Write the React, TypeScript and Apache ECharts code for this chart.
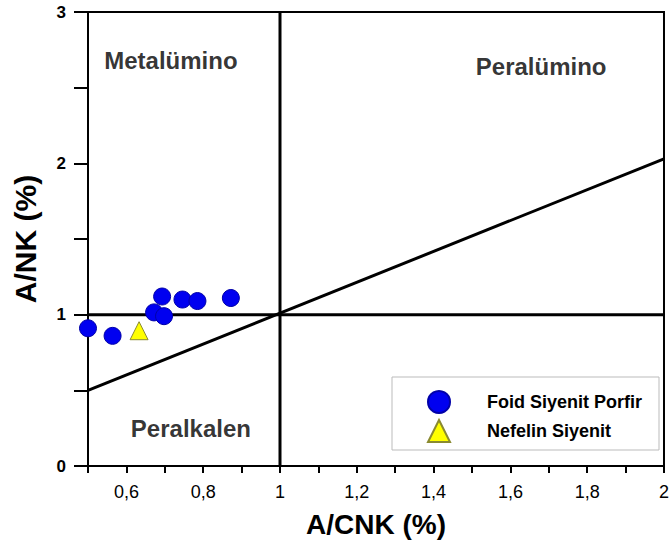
import React, { useEffect, useRef } from "react";
import * as echarts from "echarts";

// A/CNK vs A/NK discrimination diagram (Shand)
const foidAcnk = [0.5, 0.564, 0.672, 0.698, 0.693, 0.746, 0.785, 0.872];
const foidAnk = [0.91, 0.86, 1.015, 0.99, 1.12, 1.1, 1.09, 1.11];
const nefelinAcnk = [0.633];
const nefelinAnk = [0.894];

// Field boundaries
const boundaryVertical = [[1, 0], [1, 3]];
const boundaryHorizontal = [[0.5, 1], [2, 1]];
const boundaryDiagonal = [[0.5, 0.5], [2, 2.03]];

// Field names and their anchor points (A/CNK, A/NK)
const fieldNames = ["Metalümino", "Peralümino", "Peralkalen"];
const fieldAcnk = [0.716, 1.68, 0.768];
const fieldAnk = [2.68, 2.64, 0.25];

const seriesNames = ["Foid Siyenit Porfir", "Nefelin Siyenit"];

const FONT = "'Liberation Sans', Arial, sans-serif";

function fmtComma(v: number): string {
  return String(+v.toFixed(1)).replace(".", ",");
}

export default function App() {
  const ref = useRef<HTMLDivElement>(null);

  useEffect(() => {
    if (!ref.current) return;
    const chart = echarts.init(ref.current, undefined, { renderer: "svg" });

    const boundaryLine = (data: number[][]) => ({
      type: "line",
      data,
      symbol: "none",
      silent: true,
      lineStyle: { color: "#000", width: 3 },
      z: 2,
    });

    chart.setOption({
      animation: false,
      backgroundColor: "#fff",
      textStyle: { fontFamily: FONT },
      grid: {
        left: 88,
        right: 8,
        top: 12,
        bottom: 84,
        show: true,
        borderColor: "#000",
        borderWidth: 2,
        backgroundColor: "transparent",
      },
      xAxis: {
        type: "value",
        min: 0.5,
        max: 2,
        interval: 0.1,
        name: "A/CNK (%)",
        nameLocation: "middle",
        nameGap: 44,
        nameTextStyle: { fontFamily: FONT, fontSize: 28, fontWeight: "bold", color: "#000" },
        axisLine: { lineStyle: { color: "#000", width: 2 } },
        axisTick: { length: 7, lineStyle: { color: "#000", width: 2 } },
        splitLine: { show: false },
        axisLabel: {
          margin: 17,
          fontSize: 18,
          color: "#000",
          fontFamily: FONT,
          formatter: (v: number) => {
            const t = Math.round(v * 10);
            return t % 2 === 0 ? fmtComma(v) : "";
          },
        },
      },
      yAxis: {
        type: "value",
        min: 0,
        max: 3,
        interval: 0.5,
        name: "A/NK (%)",
        nameLocation: "middle",
        nameGap: 48,
        nameTextStyle: { fontFamily: FONT, fontSize: 30, fontWeight: "bold", color: "#000" },
        axisLine: { lineStyle: { color: "#000", width: 2 } },
        axisTick: { length: 14, lineStyle: { color: "#000", width: 2 } },
        splitLine: { show: false },
        axisLabel: {
          margin: 22,
          fontSize: 17,
          fontWeight: "bold",
          color: "#000",
          fontFamily: FONT,
          formatter: (v: number) => (Math.abs(v - Math.round(v)) < 1e-6 ? String(Math.round(v)) : ""),
        },
      },
      legend: {
        orient: "vertical",
        left: 427,
        top: 390,
        padding: 0,
        itemWidth: 22,
        itemHeight: 22,
        itemGap: 5,
        textStyle: {
          fontFamily: FONT,
          fontSize: 18,
          fontWeight: "bold",
          color: "#000",
          padding: [0, 0, 0, 32],
        },
        data: [
          { name: seriesNames[0], icon: "circle" },
          { name: seriesNames[1], icon: "triangle" },
        ],
      },
      graphic: [
        {
          type: "rect",
          shape: { x: 392, y: 377, width: 267, height: 73 },
          style: { fill: "#fff", stroke: "#bbbbbb", lineWidth: 1 },
          z: 3,
        },
      ],
      series: [
        boundaryLine(boundaryVertical),
        boundaryLine(boundaryHorizontal),
        boundaryLine(boundaryDiagonal),
        {
          type: "scatter",
          silent: true,
          symbolSize: 0,
          data: fieldNames.map((n, i) => ({ name: n, value: [fieldAcnk[i], fieldAnk[i]] })),
          label: {
            show: true,
            position: "inside",
            formatter: (p: any) => p.name,
            fontFamily: FONT,
            fontSize: 24,
            fontWeight: "bold",
            color: "#000",
          },
        },
        {
          name: seriesNames[0],
          type: "scatter",
          symbol: "circle",
          symbolSize: 17,
          itemStyle: { color: "#0000f0", borderColor: "#0000a8", borderWidth: 1, opacity: 1 },
          data: foidAcnk.map((x, i) => [x, foidAnk[i]]),
          z: 5,
        },
        {
          name: seriesNames[1],
          type: "scatter",
          symbol: "triangle",
          symbolSize: 18,
          itemStyle: { color: "#ffff00", borderColor: "#8a8a30", borderWidth: 1, opacity: 1 },
          data: nefelinAcnk.map((x, i) => [x, nefelinAnk[i]]),
          z: 5,
        },
      ],
    });

    return () => chart.dispose();
  }, []);

  return (
    <div
      ref={ref}
      style={{ position: "fixed", left: 0, top: 0, width: 672, height: 550 }}
    />
  );
}
